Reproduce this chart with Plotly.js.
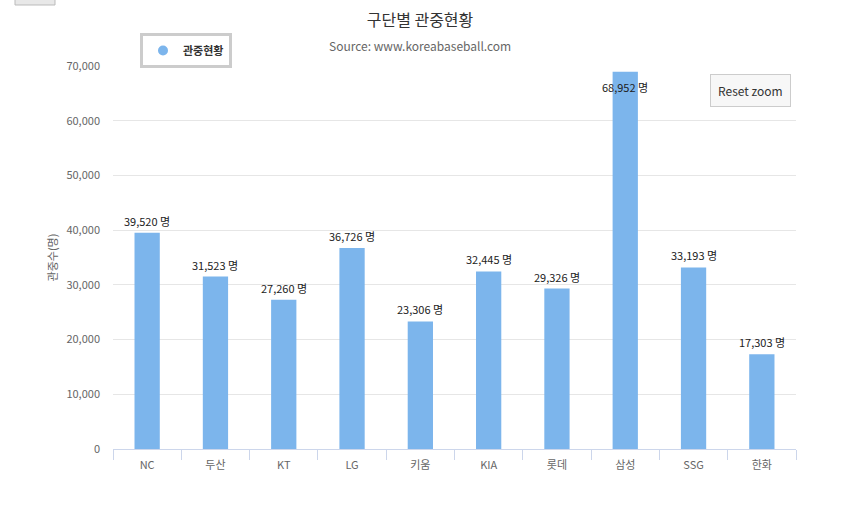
<!DOCTYPE html>
<html><head><meta charset="utf-8">
<script src="https://cdn.plot.ly/plotly-3.0.1.min.js"></script>
<style>html,body{margin:0;padding:0;background:#fff;}#chart{width:850px;height:532px;}</style>
</head><body><div id="chart"></div>
<script>
const teams = ["NC","두산","KT","LG","키움","KIA","롯데","삼성","SSG","한화"];
const attendance = [39520,31523,27260,36726,23306,32445,29326,68952,33193,17303];
const seriesName = "관중현황";
const titleText = "구단별 관중현황";
const subtitleText = "Source: www.koreabaseball.com";
const yTitle = "관중수(명)";
const yMax = 70000;

const FONT = "'Noto Sans CJK KR', 'Noto Sans', sans-serif";
const barColor = "#7cb5ec";

const fmt = v => v.toLocaleString("en-US") + " 명";

const annotations = teams.map((t, i) => {
  const v = attendance[i];
  const inside = v > 0.93 * yMax;
  return {
    x: t, y: v, xref: "x", yref: "y",
    text: fmt(v), showarrow: false,
    yanchor: inside ? "top" : "bottom",
    yshift: inside ? -5 : 2,
    font: {family: FONT, size: 11, color: "#222"}
  };
});
annotations.push({
  xref: "paper", yref: "paper", x: (420-113)/683, y: (449-46)/383, xanchor: "center", yanchor: "middle",
  text: subtitleText, showarrow: false, font: {family: FONT, size: 12, color: "#666"}
});
annotations.push({
  xref: "paper", yref: "paper", x: (750-113)/683, y: (449-90)/383, xanchor: "center", yanchor: "middle",
  text: "Reset zoom", showarrow: false, bgcolor: "#f7f7f7", bordercolor: "#cccccc", borderwidth: 1,
  borderpad: 7, font: {family: FONT, size: 12, color: "#333"}
});

const data = [
  {type: "bar", x: teams, y: attendance, marker: {color: barColor}, showlegend: false, hoverinfo: "x+y"},
  {type: "scatter", mode: "markers", x: [null], y: [null], name: seriesName,
   marker: {symbol: "circle", size: 10, color: barColor}, showlegend: true}
];

const layout = {
  width: 850, height: 532,
  margin: {l: 113, r: 54, t: 66, b: 83},
  paper_bgcolor: "#fff", plot_bgcolor: "#fff",
  font: {family: FONT, color: "#666"},
  title: {text: titleText, x: (420)/850, xref: "container", xanchor: "center", y: (532-20)/532, yanchor: "middle",
          font: {family: FONT, size: 16, color: "#333"}},
  bargap: 0.63,
  xaxis: {
    type: "category", showline: true, linecolor: "#ccd6eb", linewidth: 1,
    ticks: "outside", ticklen: 10, tickcolor: "#ccd6eb", tickson: "boundaries",
    ticklabelstandoff: 6,
    showgrid: false, tickfont: {family: FONT, size: 11, color: "#666"}, fixedrange: true
  },
  yaxis: {
    range: [0, yMax], dtick: 10000, tickformat: ",", gridcolor: "#e6e6e6", zeroline: false,
    showline: false, ticks: "", ticklabelstandoff: 12,
    tickfont: {family: FONT, size: 11, color: "#666"},
    title: {text: yTitle, standoff: 6, font: {family: FONT, size: 11, color: "#666"}}
  },
  legend: {
    x: (140-113)/683, y: (449-33)/383, xanchor: "left", yanchor: "top",
    bordercolor: "#cccccc", borderwidth: 3, bgcolor: "#fff",
    font: {family: FONT, size: 11, color: "#333", weight: "bold"},
    itemwidth: 30, tracegroupgap: 0
  },
  shapes: [{
    type: "rect", xref: "paper", yref: "paper",
    x0: (15-113)/683, x1: (55-113)/683, y0: (449-5)/383, y1: (449+5)/383,
    fillcolor: "#e8e8e8", line: {color: "#bbb", width: 1}
  }],
  annotations: annotations
};

Plotly.newPlot("chart", data, layout, {displayModeBar: false});
</script></body></html>
